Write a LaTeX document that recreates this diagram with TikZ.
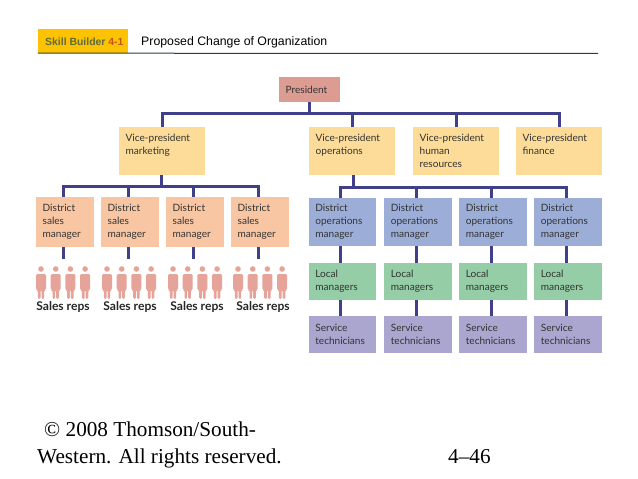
\documentclass[tikz,border=0pt]{standalone}
\usepackage{fontspec}
\setmainfont{Lato}
\newfontfamily\headfont{Liberation Sans}
\newfontfamily\footfont{Liberation Serif}
\definecolor{presfill}{HTML}{DC9C92}
\definecolor{vpfill}{HTML}{FCDC98}
\definecolor{salesfill}{HTML}{F9C6A4}
\definecolor{opsfill}{HTML}{9CAED8}
\definecolor{localfill}{HTML}{95CDA6}
\definecolor{servfill}{HTML}{ABA6CF}
\definecolor{busblue}{HTML}{3F3F8A}
\definecolor{repfill}{HTML}{E6A399}
\definecolor{tabyellow}{HTML}{FDC300}
\definecolor{tabtext}{HTML}{5F6B3A}
\definecolor{tabnum}{HTML}{C2571A}
\definecolor{ruleblue}{HTML}{1E4050}
\definecolor{boxtext}{HTML}{333333}

\begin{document}
\begin{tikzpicture}[x=0.03cm,y=-0.03cm]
    % Styles for boxes and lines
    \tikzset{
      box/.style={rectangle, align=left, text=boxtext, font=\fontsize{8.6}{11.3}\selectfont, inner xsep=0.2cm, inner ysep=0pt},
      presbox/.style={box, fill=presfill, text width=1.43cm, minimum height=0.75cm},
      vpbox/.style={box, fill=vpfill, text width=2.18cm, minimum height=1.44cm},
      salesbox/.style={box, fill=salesfill, text width=1.34cm, minimum height=1.5cm},
      opsbox/.style={box, fill=opsfill, text width=1.63cm, minimum height=1.44cm},
      localbox/.style={box, fill=localfill, text width=1.63cm, minimum height=1.11cm},
      servbox/.style={box, fill=servfill, text width=1.63cm, minimum height=1.11cm},
      bus/.style={line width=0.09cm, busblue},
      repslabel/.style={font=\fontsize{10.3}{12}\selectfont\bfseries, text=black!85, inner sep=0pt},
      footlabel/.style={font=\footfont\fontsize{18.1}{22}\selectfont, anchor=base west, inner sep=0pt},
      person/.pic={
        \fill[repfill] (0,3) circle (2.8);
        \fill[repfill, rounded corners=0.04cm] (-5,8) -- (5,8) -- (5,24) -- (3.2,24) -- (3.2,33)
          -- (0.5,33) -- (0.5,24) -- (-0.5,24) -- (-0.5,33) -- (-3.2,33) -- (-3.2,24) -- (-5,24) -- cycle;
      }
    }

    \useasboundingbox (0,0) rectangle (638,479);

    % Header
    \node[fill=tabyellow, minimum width=2.7cm, minimum height=0.72cm, inner sep=0pt] (tab) at (83,41) {};
    \node[anchor=west, inner sep=0pt, font=\headfont\fontsize{8.9}{10}\selectfont\bfseries] (tabtxt) at (45,41.5) {\textcolor{tabtext}{Skill Builder} \textcolor{tabnum}{4-1}};
    \node[anchor=west, inner sep=0pt, font=\headfont\fontsize{10.5}{12}\selectfont] (title) at (141,42) {Proposed Change of Organization};
    \coordinate (ruleend) at (598,53.3);
    \draw[ruleblue, line width=0.03cm] (tab.south west) -- (ruleend);

    % Nodes with explicit coordinates
    \node[presbox] (pres) at (309.5,89.5) {President};
    \node[vpbox] (vpm) at (162,151) {Vice-president\\marketing\\~};
    \node[vpbox] (vpo) at (352,151) {Vice-president\\operations\\~};
    \node[vpbox] (vph) at (456,151) {Vice-president\\human\\resources};
    \node[vpbox] (vpf) at (559,151) {Vice-president\\finance\\~};

    \foreach \i/\x in {1/65,2/130,3/195,4/260}
      \node[salesbox] (ds\i) at (\x,222) {District\\sales\\manager};
    \foreach \i/\x in {1/342.5,2/418,3/493,4/568}
      \node[opsbox] (do\i) at (\x,222) {District\\operations\\manager};
    \foreach \i/\x in {1/342.5,2/418,3/493,4/568}
      \node[localbox] (lm\i) at (\x,281.5) {Local\\managers};
    \foreach \i/\x in {1/342.5,2/418,3/493,4/568}
      \node[servbox] (st\i) at (\x,334.5) {Service\\technicians};

    % Sales reps
    \foreach \i/\x/\lx in {1/41/63,2/107/130,3/173/197,4/238/263} {
      \foreach \k in {0,1,2,3}
        \pic at (\x+14.7*\k,266) {person};
      \node[repslabel] (reps\i) at (\lx,307) {Sales reps};
    }

    % Lines
    \coordinate (busp) at (309.5,114);
    \coordinate (busm) at (161,186);
    \coordinate (buso) at (353,187);
    \foreach \n in {vpm,vpo,vph,vpf}
      \draw[bus] (pres.south) -- (pres.south |- busp) -| (\n.north);
    \foreach \i in {1,2,3,4} {
      \draw[bus] (vpm.south -| busm) -- (busm) -| ([xshift=-1.5pt]ds\i.north);
      \draw[bus] (vpo.south -| buso) -- (buso) -| ([xshift=-1.5pt]do\i.north);
      \draw[bus] ([xshift=-1.5pt]do\i.south) -- ([xshift=-1.5pt]lm\i.north);
      \draw[bus] ([xshift=-1.5pt]lm\i.south) -- ([xshift=-1.5pt]st\i.north);
    }
    \foreach \i in {1,2,3,4} {
      \coordinate (stub\i) at ([xshift=-1.5pt,yshift=-0.36cm]ds\i.south);
      \draw[bus] ([xshift=-1.5pt]ds\i.south) -- (stub\i);
    }

    % Footer
    \node[footlabel] (copy) at (44,436) {© 2008 Thomson/South-};
    \node[footlabel] (rights) at (37,463) {Western. All rights reserved.};
    \node[footlabel] (page) at (448,463) {4–46};

\end{tikzpicture}
\end{document}
